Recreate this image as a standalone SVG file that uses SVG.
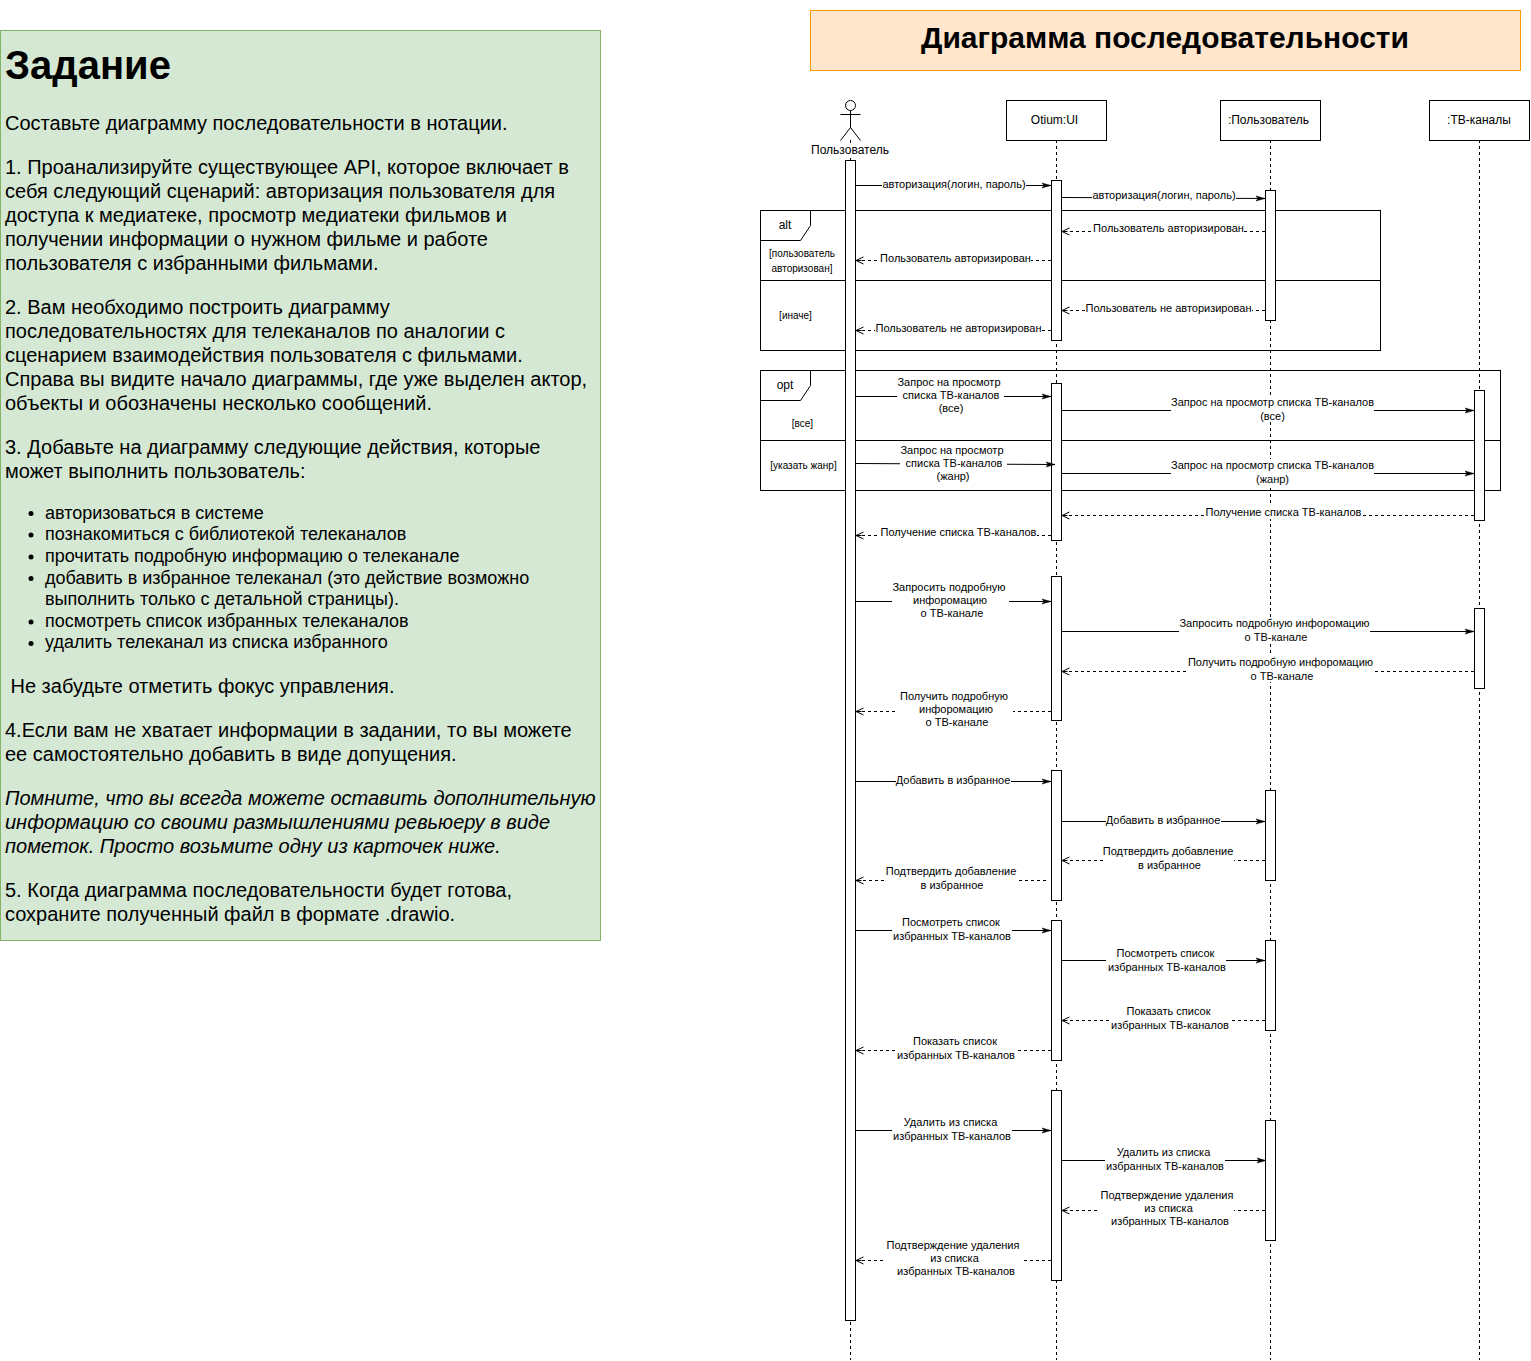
<svg xmlns="http://www.w3.org/2000/svg" width="1531" height="1361" viewBox="0 0 1531 1361">
<style>
text{font-family:"Liberation Sans",Arial,sans-serif;fill:#000}
.p{font-size:20px}
.li{font-size:18px}
.l{font-size:11px;text-anchor:middle}
.s{font-size:10px;text-anchor:middle}
.b{fill:#fff;stroke:#000;stroke-width:1}
.a{fill:#fff;stroke:#000;stroke-width:1}
.ll{stroke:#000;stroke-dasharray:3 3;fill:none}
.f{fill:none;stroke:#000;stroke-width:1}
.m{stroke:#000;fill:none;marker-end:url(#fa)}
.r{stroke:#000;fill:none;stroke-dasharray:3 3;marker-end:url(#oa)}
.w{fill:#fff;stroke:none}
</style>
<defs>
<marker id="fa" markerUnits="userSpaceOnUse" markerWidth="10" markerHeight="8" refX="9" refY="4" orient="auto"><path d="M0 1.500 L9 4 L0 6.500 L2 4 Z" fill="#000" stroke="#000" stroke-width=".5"/></marker>
<marker id="oa" markerUnits="userSpaceOnUse" markerWidth="10" markerHeight="10" refX="8.500" refY="5" orient="auto"><path d="M1 1.500 L8.500 5 L1 8.500 M3 5 L8.500 5" fill="none" stroke="#000"/></marker>
</defs>

<g id="task">
<rect x="0.5" y="30.5" width="600" height="910" fill="#d5e8d4" stroke="#82b366"/>
<text x="5" y="79" font-size="40" font-weight="bold">Задание</text>
<text class="p" x="5" y="130">Составьте диаграмму последовательности в нотации.</text>
<text class="p" x="5" y="174">1. Проанализируйте существующее API, которое включает в</text>
<text class="p" x="5" y="198">себя следующий сценарий: авторизация пользователя для</text>
<text class="p" x="5" y="222">доступа к медиатеке, просмотр медиатеки фильмов и</text>
<text class="p" x="5" y="246">получении информации о нужном фильме и работе</text>
<text class="p" x="5" y="270">пользователя с избранными фильмами.</text>
<text class="p" x="5" y="314">2. Вам необходимо построить диаграмму</text>
<text class="p" x="5" y="338">последовательностях для телеканалов по аналогии с</text>
<text class="p" x="5" y="362">сценарием взаимодействия пользователя с фильмами.</text>
<text class="p" x="5" y="386">Справа вы видите начало диаграммы, где уже выделен актор,</text>
<text class="p" x="5" y="410">объекты и обозначены несколько сообщений.</text>
<text class="p" x="5" y="454">3. Добавьте на диаграмму следующие действия, которые</text>
<text class="p" x="5" y="478">может выполнить пользователь:</text>
<circle cx="31" cy="513.500" r="2.500"/><circle cx="31" cy="535" r="2.500"/><circle cx="31" cy="557" r="2.500"/><circle cx="31" cy="578.500" r="2.500"/><circle cx="31" cy="622" r="2.500"/><circle cx="31" cy="643.500" r="2.500"/>
<text class="li" x="45" y="519">авторизоваться в системе</text>
<text class="li" x="45" y="540">познакомиться с библиотекой телеканалов</text>
<text class="li" x="45" y="562">прочитать подробную информацию о телеканале</text>
<text class="li" x="45" y="584">добавить в избранное телеканал (это действие возможно</text>
<text class="li" x="45" y="605">выполнить только с детальной страницы).</text>
<text class="li" x="45" y="627">посмотреть список избранных телеканалов</text>
<text class="li" x="45" y="648">удалить телеканал из списка избранного</text>
<text class="p" x="10.5" y="693">Не забудьте отметить фокус управления.</text>
<text class="p" x="5" y="737">4.Если вам не хватает информации в задании, то вы можете</text>
<text class="p" x="5" y="761">ее самостоятельно добавить в виде допущения.</text>
<text class="p" x="5" y="805" font-style="italic">Помните, что вы всегда можете оставить дополнительную</text>
<text class="p" x="5" y="829" font-style="italic">информацию со своими размышлениями ревьюеру в виде</text>
<text class="p" x="5" y="853" font-style="italic">пометок. Просто возьмите одну из карточек ниже.</text>
<text class="p" x="5" y="897">5. Когда диаграмма последовательности будет готова,</text>
<text class="p" x="5" y="921">сохраните полученный файл в формате .drawio.</text>
</g>

<g id="title">
<rect x="810.5" y="10.5" width="710" height="60" fill="#ffe6cc" stroke="#ff9900"/>
<text x="1165" y="48" font-size="30" font-weight="bold" text-anchor="middle">Диаграмма последовательности</text>
</g>

<g id="lifelines">
<path class="ll" d="M850.5 140V1360"/>
<path class="ll" d="M1056.5 140V1360"/>
<path class="ll" d="M1270.5 140V1360"/>
<path class="ll" d="M1479.5 140V1360"/>
</g>

<g id="frame-alt">
<rect class="f" x="760.5" y="210.5" width="620" height="140"/>
<path class="f" d="M760.5 240.5H800.5L810.5 225.5V210.5M760.5 280.5H1380.5"/>
<text class="l" x="785" y="229" style="font-size:12px">alt</text>
<text class="s" x="802" y="257">[пользователь</text>
<text class="s" x="802" y="272">авторизован]</text>
<text class="s" x="795.500" y="319">[иначе]</text>
</g>
<g id="frame-opt">
<rect class="f" x="760.5" y="370.5" width="740" height="120"/>
<path class="f" d="M760.5 400.5H800.5L810.5 385.5V370.5M760.5 440.5H1500.5"/>
<text class="l" x="785" y="389" style="font-size:12px">opt</text>
<text class="s" x="802.500" y="427">[все]</text>
<text class="s" x="803.500" y="469">[указать жанр]</text>
</g>

<g id="actor">
<circle class="f" cx="850.5" cy="105.5" r="5"/>
<path class="f" d="M850.5 110.5V128M840.5 114.5H860.5M840.5 140.5L850.5 127.5L860.5 140.5"/>
<rect class="w" x="810" y="143" width="80" height="14"/>
<text x="850" y="154" font-size="12" text-anchor="middle">Пользователь</text>
<rect class="a" x="845.5" y="160.5" width="10" height="1160"/>
</g>
<g id="otium">
<rect class="b" x="1006.5" y="100.5" width="100" height="40"/>
<text x="1054.5" y="124" font-size="12" text-anchor="middle">Otium:UI</text>
<rect class="a" x="1051.5" y="180.5" width="10" height="160"/>
<rect class="a" x="1051.5" y="383.5" width="10" height="157"/>
<rect class="a" x="1051.5" y="576.5" width="10" height="144"/>
<rect class="a" x="1051.5" y="770.5" width="10" height="130"/>
<rect class="a" x="1051.5" y="920.5" width="10" height="140"/>
<rect class="a" x="1051.5" y="1090.5" width="10" height="190"/>
</g>
<g id="user">
<rect class="b" x="1220.5" y="100.5" width="100" height="40"/>
<text x="1268.5" y="124" font-size="12" text-anchor="middle">:Пользователь</text>
<rect class="a" x="1265.5" y="190.5" width="10" height="130"/>
<rect class="a" x="1265.5" y="790.5" width="10" height="90"/>
<rect class="a" x="1265.5" y="940.5" width="10" height="90"/>
<rect class="a" x="1265.5" y="1120.5" width="10" height="120"/>
</g>
<g id="channels">
<rect class="b" x="1429.5" y="100.5" width="100" height="40"/>
<text x="1479" y="124" font-size="12" text-anchor="middle">:ТВ-каналы</text>
<rect class="a" x="1474.5" y="390.5" width="10" height="130"/>
<rect class="a" x="1474.5" y="608.5" width="10" height="80"/>
</g>

<g id="connectors">
<path class="m" d="M856 185.5H1051"/>
<path class="m" d="M1062 197.5L1265 198.5"/>
<path class="r" d="M1265 231.5H1062"/>
<path class="r" d="M1051 260.5H856"/>
<path class="r" d="M1265 310.5H1062"/>
<path class="r" d="M1051 330.5H856"/>
<path class="m" d="M856 396.5H1051"/>
<path class="m" d="M1062 410.5H1474"/>
<path class="m" d="M856 463.5L1055 464.5"/>
<path class="m" d="M1062 473.5H1474"/>
<path class="r" d="M1474 515.5H1062"/>
<path class="r" d="M1051 535.5H856"/>
<path class="m" d="M856 601.5H1051"/>
<path class="m" d="M1062 631.5H1474"/>
<path class="r" d="M1474 671.5H1062"/>
<path class="r" d="M1051 711.5H856"/>
<path class="m" d="M856 781.5H1051"/>
<path class="m" d="M1062 821.5H1265"/>
<path class="r" d="M1265 860.5H1062"/>
<path class="r" d="M1046 880.5H856"/>
<path class="m" d="M856 930.5H1051"/>
<path class="m" d="M1062 960.5H1265"/>
<path class="r" d="M1265 1020.5H1062"/>
<path class="r" d="M1051 1050.5H856"/>
<path class="m" d="M856 1130.5H1051"/>
<path class="m" d="M1062 1160.5H1266"/>
<path class="r" d="M1265 1210.5H1062"/>
<path class="r" d="M1051 1260.5H856"/>
</g>

<g id="labels">
<rect class="w" x="882" y="178" width="144" height="13"/><text class="l" x="954" y="188">авторизация(логин, пароль)</text>
<rect class="w" x="1092" y="189" width="144" height="13"/><text class="l" x="1164" y="199">авторизация(логин, пароль)</text>
<rect class="w" x="1093" y="222" width="151" height="13"/><text class="l" x="1168.500" y="232">Пользователь авторизирован</text>
<rect class="w" x="880" y="252" width="151" height="13"/><text class="l" x="955.500" y="262">Пользователь авторизирован</text>
<rect class="w" x="1085" y="302" width="167" height="13"/><text class="l" x="1168.500" y="312">Пользователь не авторизирован</text>
<rect class="w" x="875" y="322" width="167" height="13"/><text class="l" x="958.500" y="332">Пользователь не авторизирован</text>

<rect class="w" x="897" y="376" width="107" height="39"/><text class="l" x="949" y="386">Запрос на просмотр</text><text class="l" x="951" y="399">списка ТВ-каналов</text><text class="l" x="951" y="412">(все)</text>
<rect class="w" x="1171" y="396" width="203" height="26"/><text class="l" x="1272.500" y="406">Запрос на просмотр списка ТВ-каналов</text><text class="l" x="1272.500" y="420">(все)</text>
<rect class="w" x="900" y="444" width="107" height="39"/><text class="l" x="952" y="454">Запрос на просмотр</text><text class="l" x="954" y="467">списка ТВ-каналов</text><text class="l" x="953" y="480">(жанр)</text>
<rect class="w" x="1171" y="459" width="203" height="26"/><text class="l" x="1272.500" y="469">Запрос на просмотр списка ТВ-каналов</text><text class="l" x="1272.500" y="483">(жанр)</text>
<rect class="w" x="1205" y="506" width="157" height="13"/><text class="l" x="1283.500" y="516">Получение списка ТВ-каналов</text>
<rect class="w" x="880" y="526" width="157" height="13"/><text class="l" x="958.500" y="536">Получение списка ТВ-каналов</text>

<rect class="w" x="892" y="581" width="117" height="39"/><text class="l" x="949" y="591">Запросить подробную</text><text class="l" x="950" y="604">инфоромацию</text><text class="l" x="952" y="617">о ТВ-канале</text>
<rect class="w" x="1179" y="617" width="191" height="26"/><text class="l" x="1274.500" y="627">Запросить подробную инфоромацию</text><text class="l" x="1276" y="641">о ТВ-канале</text>
<rect class="w" x="1188" y="656" width="186" height="26"/><text class="l" x="1280.500" y="666">Получить подробную инфоромацию</text><text class="l" x="1282" y="680">о ТВ-канале</text>
<rect class="w" x="898" y="690" width="115" height="39"/><text class="l" x="954" y="700">Получить подробную</text><text class="l" x="956" y="713">инфоромацию</text><text class="l" x="957" y="726">о ТВ-канале</text>

<rect class="w" x="896" y="774" width="115" height="13"/><text class="l" x="953" y="784">Добавить в избранное</text>
<rect class="w" x="1106" y="814" width="115" height="13"/><text class="l" x="1163" y="824">Добавить в избранное</text>
<rect class="w" x="1103" y="845" width="131" height="26"/><text class="l" x="1168" y="855">Подтвердить добавление</text><text class="l" x="1169.500" y="869">в избранное</text>
<rect class="w" x="885" y="865" width="132" height="26"/><text class="l" x="951" y="875">Подтвердить добавление</text><text class="l" x="952" y="889">в избранное</text>

<rect class="w" x="892" y="916" width="120" height="26"/><text class="l" x="951" y="926">Посмотреть список</text><text class="l" x="952" y="940">избранных ТВ-каналов</text>
<rect class="w" x="1106" y="947" width="120" height="26"/><text class="l" x="1165.500" y="957">Посмотреть список</text><text class="l" x="1167" y="971">избранных ТВ-каналов</text>
<rect class="w" x="1110" y="1005" width="120" height="26"/><text class="l" x="1168.500" y="1015">Показать список</text><text class="l" x="1170" y="1029">избранных ТВ-каналов</text>
<rect class="w" x="896" y="1035" width="120" height="26"/><text class="l" x="955" y="1045">Показать список</text><text class="l" x="956" y="1059">избранных ТВ-каналов</text>

<rect class="w" x="892" y="1116" width="120" height="26"/><text class="l" x="950.500" y="1126">Удалить из списка</text><text class="l" x="952" y="1140">избранных ТВ-каналов</text>
<rect class="w" x="1105" y="1146" width="120" height="26"/><text class="l" x="1163.500" y="1156">Удалить из списка</text><text class="l" x="1165" y="1170">избранных ТВ-каналов</text>
<rect class="w" x="1100" y="1189" width="134" height="39"/><text class="l" x="1167" y="1199">Подтверждение удаления</text><text class="l" x="1168.500" y="1212">из списка</text><text class="l" x="1170" y="1225">избранных ТВ-каналов</text>
<rect class="w" x="885" y="1239" width="136" height="39"/><text class="l" x="953" y="1249">Подтверждение удаления</text><text class="l" x="954.500" y="1262">из списка</text><text class="l" x="956" y="1275">избранных ТВ-каналов</text>
</g>
</svg>
